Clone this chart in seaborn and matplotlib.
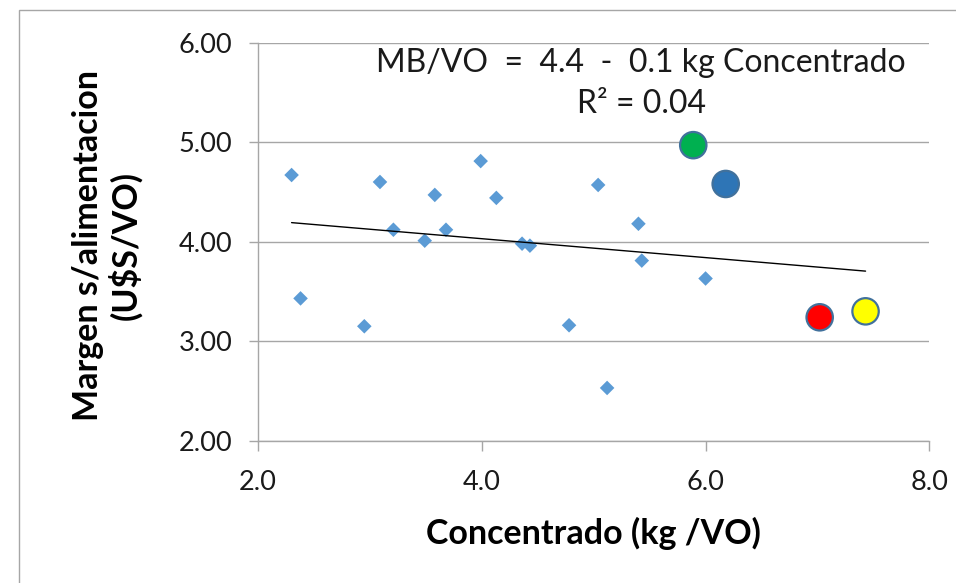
import numpy as np
import pandas as pd
import matplotlib.pyplot as plt
import seaborn as sns
from matplotlib.patches import Rectangle

# diamonds (all farms)
conc = [2.30, 2.38, 2.95, 3.09, 3.21, 3.49, 3.58, 3.68, 3.99, 4.13,
        4.36, 4.43, 4.78, 5.04, 5.12, 5.40, 5.43, 6.00]
margen = [4.67, 3.43, 3.15, 4.60, 4.12, 4.01, 4.47, 4.12, 4.81, 4.44,
          3.98, 3.96, 3.16, 4.57, 2.53, 4.18, 3.81, 3.63]

# highlighted farms (big circles)
hl_name = ["verde", "azul", "rojo", "amarillo"]
hl_conc = [5.89, 6.18, 7.02, 7.43]
hl_margen = [4.97, 4.58, 3.24, 3.30]
hl_colors = ["#00B050", "#2E75B6", "#FF0000", "#FFFF00"]

# linear trend shown in the chart
trend_intercept = 4.41
trend_slope = -0.095

xticks = [2.0, 4.0, 6.0, 8.0]
yticks = [2.0, 3.0, 4.0, 5.0, 6.0]

sns.set_style("white")
plt.rcParams["font.family"] = ["Lato", "DejaVu Sans"]

grid_col = "#A6A6A6"
txt_col = "#1a1a1a"

fig = plt.figure(figsize=(9.56, 5.83), dpi=100)
ax = fig.add_axes([0.2699, 0.2441, 0.7022, 0.6827])

df = pd.DataFrame({"conc": conc, "margen": margen})
sns.scatterplot(data=df, x="conc", y="margen", marker="D", s=55,
                color="#5B9BD5", edgecolor="none", ax=ax, zorder=3)

xs = np.array([min(conc + hl_conc), max(conc + hl_conc)])
sns.lineplot(x=xs, y=trend_intercept + trend_slope * xs, color="black",
             lw=1.0, ax=ax, zorder=4)

hl = pd.DataFrame({"name": hl_name, "conc": hl_conc, "margen": hl_margen})
sns.scatterplot(data=hl, x="conc", y="margen", hue="name",
                palette=dict(zip(hl_name, hl_colors)), s=361,
                edgecolor="#41719C", linewidth=1.6, legend=False, ax=ax, zorder=5)

ax.set_xlim(2, 8)
ax.set_ylim(2, 6)
ax.set_xticks(xticks)
ax.set_xticklabels([f"{v:.1f}" for v in xticks])
ax.set_yticks(yticks)
ax.set_yticklabels([f"{v:.2f}" for v in yticks])

ax.yaxis.grid(True, color=grid_col, lw=1)
ax.xaxis.grid(False)
for side in ["top", "right"]:
    ax.spines[side].set_visible(False)
for side in ["left", "bottom"]:
    ax.spines[side].set_color(grid_col)
    ax.spines[side].set_linewidth(1)

ax.tick_params(axis="y", direction="out", length=6.5, width=1, color=grid_col,
               pad=12, labelsize=19.5, labelcolor=txt_col, left=True)
ax.tick_params(axis="x", direction="out", length=7.2, width=1, color=grid_col,
               pad=14, labelsize=19.5, labelcolor=txt_col, bottom=True)

ax.set_xlabel("Concentrado (kg /VO)", fontsize=24.5, fontweight="bold",
              color="black", va="center")
ax.xaxis.set_label_coords(0.5, -0.232)
ax.set_ylabel("Margen s/alimentacion\n(U$S/VO)", fontsize=24.5, fontweight="bold",
              color="black", va="center", ha="center", linespacing=1.15)
ax.yaxis.set_label_coords(-0.225, 0.49)

ax.text(0.5705, 0.926, "MB/VO  =  4.4  -  0.1 kg Concentrado", transform=ax.transAxes,
        ha="center", va="baseline", fontsize=23, color=txt_col)
ax.text(0.5705, 0.823, "R\u00b2 = 0.04", transform=ax.transAxes,
        ha="center", va="baseline", fontsize=23, color=txt_col)

# outer chart border (only top/left visible in the crop)
fig.patches.append(Rectangle((19 / 956, -1), 5, 1 + (1 - 10 / 583), fill=False,
                             edgecolor=grid_col, lw=1, transform=fig.transFigure))

fig.savefig("out.png", dpi=100)
